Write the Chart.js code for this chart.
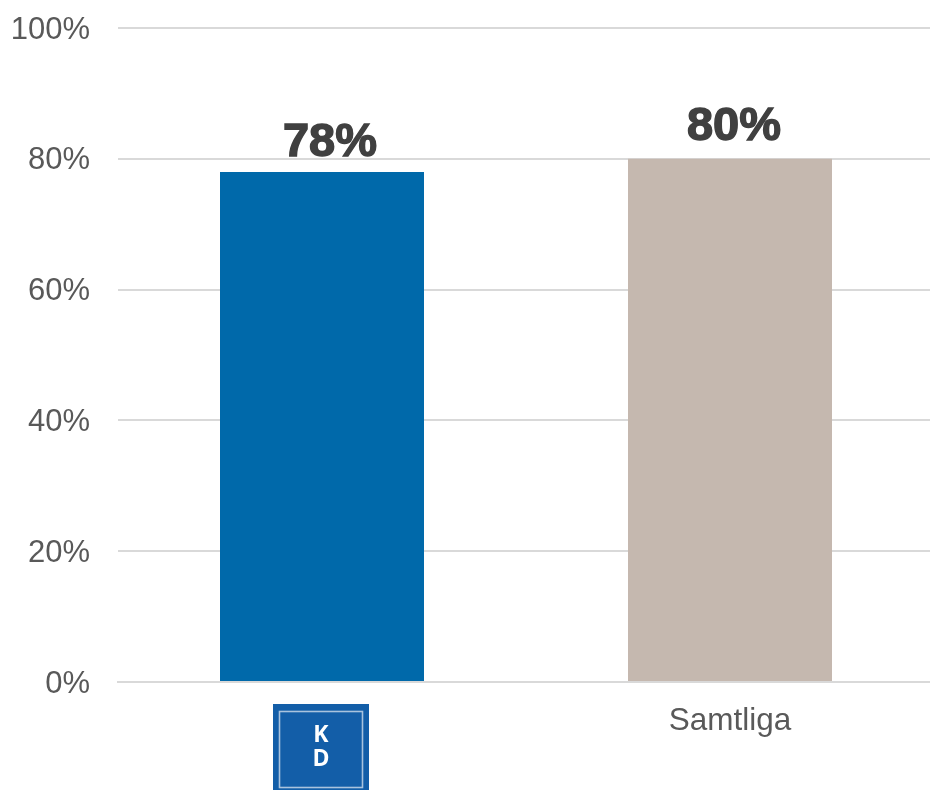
<!DOCTYPE html>
<html><head><meta charset="utf-8">
<style>html,body{margin:0;padding:0;background:#fff;overflow:hidden}#wrap{width:930px;height:790px;overflow:hidden}canvas{display:block}</style>
<script src="https://cdn.jsdelivr.net/npm/chart.js@4"></script></head>
<body><div id="wrap"><canvas id="c" width="934" height="790"></canvas></div>
<script>
const categories = ["KD", "Samtliga"];
const values = [78, 80];
const barColors = ["#0069aa", "#c5b8af"];
const yTicks = [0, 20, 40, 60, 80, 100];

const overlay = {
  id: "overlay",
  afterDatasetsDraw(chart) {
    const ctx = chart.ctx, x = chart.scales.x, y = chart.scales.y;
    const shift = [8, 4], lift = [16, 19];
    ctx.save();
    ctx.textAlign = "center"; ctx.textBaseline = "alphabetic";
    ctx.font = "bold 47px 'Liberation Sans'";
    ctx.fillStyle = "#404040"; ctx.strokeStyle = "#404040"; ctx.lineWidth = 1.4;
    values.forEach((v, i) => {
      const px = x.getPixelForValue(i) + shift[i], py = y.getPixelForValue(v) - lift[i];
      ctx.fillText(v + "%", px, py); ctx.strokeText(v + "%", px, py);
    });
    // KD logo in place of the first category label
    const cx = x.getPixelForValue(0) - 1, top = 704;
    ctx.fillStyle = "#135ea8"; ctx.fillRect(cx - 48, top, 96, 86);
    ctx.strokeStyle = "#a9c3de"; ctx.lineWidth = 1.6;
    ctx.strokeRect(cx - 41.5, top + 7.5, 83, 76);
    ctx.fillStyle = "#fff"; ctx.font = "bold 23px 'Open Sans'";
    ctx.fillText("K", cx, top + 38);
    ctx.fillText("D", cx, top + 62);
    ctx.restore();
  }
};

new Chart(document.getElementById("c"), {
  type: "bar",
  data: { labels: categories, datasets: [{ data: values, backgroundColor: barColors, barPercentage: 1, categoryPercentage: 0.5 }] },
  plugins: [overlay],
  options: {
    responsive: false, animation: false,
    layout: { padding: { top: 28, right: 0, left: 0, bottom: 0 } },
    plugins: { legend: { display: false }, tooltip: { enabled: false } },
    scales: {
      x: {
        afterFit(s) { s.height = 108; s.paddingLeft = 0; s.paddingRight = 0; },
        grid: { display: false, drawTicks: false },
        border: { color: "#d9d9d9", width: 2 },
        ticks: { padding: 20, maxRotation: 0, color: "#595959", font: { family: "'Liberation Sans'", size: 31.5 },
          callback(v, i) { return i === 0 ? "" : categories[i]; } }
      },
      y: {
        min: 0, max: 100,
        afterFit(s) { s.width = 118; s.paddingTop = 0; s.paddingBottom = 0; },
        afterBuildTicks(s) { s.ticks = yTicks.map(value => ({ value })); },
        grid: { color: "#d9d9d9", lineWidth: 2, drawTicks: false },
        border: { display: false },
        ticks: { padding: 28, labelOffset: 2, color: "#595959", font: { family: "'Liberation Sans'", size: 31 },
          callback(v) { return v + "%"; } }
      }
    }
  }
});
</script></body></html>
